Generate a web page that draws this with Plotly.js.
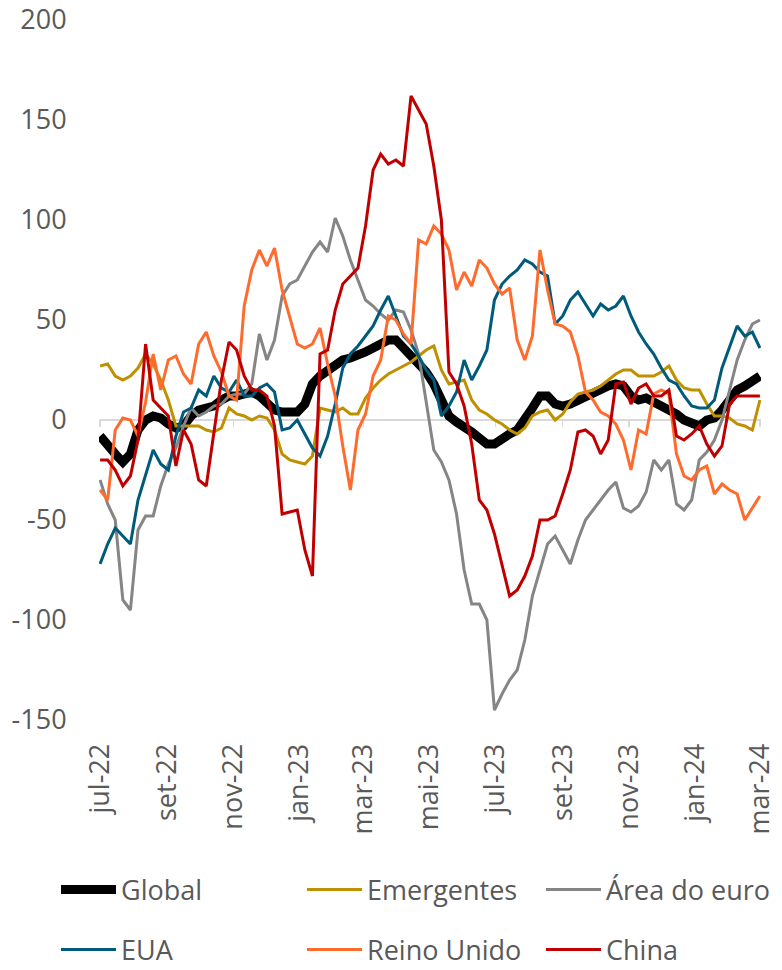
<!DOCTYPE html>
<html>
<head>
<meta charset="utf-8">
<script src="https://cdn.plot.ly/plotly-3.0.1.min.js"></script>
<style>
html,body{margin:0;padding:0;background:#ffffff;}
#chart{width:782px;height:970px;}
</style>
</head>
<body>
<div id="chart"></div>
<script>
const dates = [
'2022-07-01','2022-07-08','2022-07-15','2022-07-22','2022-07-29','2022-08-05','2022-08-12','2022-08-19','2022-08-26','2022-09-02',
'2022-09-09','2022-09-16','2022-09-23','2022-09-30','2022-10-07','2022-10-14','2022-10-21','2022-10-28','2022-11-04','2022-11-11',
'2022-11-18','2022-11-25','2022-12-02','2022-12-09','2022-12-16','2022-12-23','2022-12-30','2023-01-06','2023-01-13','2023-01-20',
'2023-01-27','2023-02-03','2023-02-10','2023-02-17','2023-02-24','2023-03-03','2023-03-10','2023-03-17','2023-03-24','2023-03-31',
'2023-04-07','2023-04-14','2023-04-21','2023-04-28','2023-05-05','2023-05-12','2023-05-19','2023-05-26','2023-06-02','2023-06-09',
'2023-06-16','2023-06-23','2023-06-30','2023-07-07','2023-07-14','2023-07-21','2023-07-28','2023-08-04','2023-08-11','2023-08-18',
'2023-08-25','2023-09-01','2023-09-08','2023-09-15','2023-09-22','2023-09-29','2023-10-06','2023-10-13','2023-10-20','2023-10-27',
'2023-11-03','2023-11-10','2023-11-17','2023-11-24','2023-12-01','2023-12-08','2023-12-15','2023-12-22','2023-12-29','2024-01-05',
'2024-01-12','2024-01-19','2024-01-26','2024-02-02','2024-02-09','2024-02-16','2024-02-23','2024-03-01'
];

const global = [
-8,-13,-17,-21,-17,-5,0,2,1,-2,
-4,-3,2,5,6,7,10,12,12,13,
14,12,8,5,4,4,4,8,18,22,
25,28,30,31,32,34,36,38,40,40,
36,33,28,24,18,10,2,-1,-3,-6,
-9,-12,-12,-9,-7,-5,0,6,12,12,
8,7,8,10,11,13,15,17,18,17,
12,10,11,9,8,6,3,0,-2,-3,
0,1,5,10,15,17,19,22
];

const emergentes = [
27,28,22,20,22,26,33,28,20,10,
-3,-3,-3,-3,-5,-6,-4,6,3,2,
0,2,1,-5,-17,-20,-21,-22,-18,6,
5,4,6,3,3,11,16,20,23,25,
27,29,32,35,37,25,18,19,20,10,
5,3,0,-2,-5,-7,-4,2,4,5,
0,3,9,13,14,15,17,20,23,25,
25,22,22,22,24,27,20,16,15,15,
8,2,2,1,-2,-3,-5,10
];

const areaEuro = [
-30,-42,-50,-90,-95,-55,-48,-48,-33,-22,
-14,-3,6,2,4,7,8,12,13,13,
18,43,30,40,62,68,70,77,84,89,
84,101,92,80,70,60,57,53,50,55,
54,45,33,10,-15,-21,-30,-47,-75,-92,
-92,-100,-145,-137,-130,-125,-110,-88,-75,-62,
-58,-65,-72,-60,-50,-45,-40,-35,-31,-44,
-46,-43,-36,-20,-25,-20,-42,-45,-40,-20,
-16,-10,0,15,30,40,48,50
];

const eua = [
-72,-62,-54,-58,-62,-40,-28,-15,-22,-25,
-8,4,6,15,12,22,16,14,20,12,
12,16,18,14,-5,-4,0,-7,-14,-18,
-8,8,26,33,37,42,47,55,62,52,
42,38,32,25,20,2,7,14,30,20,
27,35,60,68,72,75,80,78,74,72,
48,52,60,64,58,52,58,55,57,62,
52,44,38,33,26,20,18,12,7,6,
6,10,26,37,47,42,44,36
];

const reinoUnido = [
-35,-40,-5,1,0,-8,9,33,15,30,
32,23,18,38,44,32,24,12,10,57,
75,85,77,86,65,52,38,36,38,46,
28,12,-13,-35,-5,3,22,30,52,50,
43,38,90,88,97,93,85,65,74,67,
80,76,68,63,66,40,30,42,85,65,
48,47,44,32,14,10,4,2,-2,-10,
-25,-5,-7,13,15,13,-17,-28,-30,-25,
-23,-37,-32,-35,-37,-50,-44,-38
];

const china = [
-20,-20,-25,-33,-28,-10,38,10,6,2,
-23,-5,-12,-30,-33,-7,20,39,35,22,
15,15,12,-3,-47,-46,-45,-65,-78,33,
35,55,68,72,76,97,125,133,128,130,
127,162,155,148,127,100,24,18,7,-12,
-40,-45,-57,-72,-88,-85,-78,-68,-50,-50,
-48,-37,-25,-6,-5,-8,-17,-10,18,19,
8,16,18,12,12,15,-8,-10,-7,-3,
-12,-18,-13,8,12,12,12,12
];

const xTickVals = ['2022-07-01','2022-09-01','2022-11-01','2023-01-01','2023-03-01','2023-05-01','2023-07-01','2023-09-01','2023-11-01','2024-01-01','2024-03-01'];
const xTickText = ['jul-22','set-22','nov-22','jan-23','mar-23','mai-23','jul-23','set-23','nov-23','jan-24','mar-24'];
const yTickVals = [-150,-100,-50,0,50,100,150,200];
const yTickText = ['-150','-100','-50','0','50','100','150','200'];

const seriesNames = ['Global','Emergentes','Área do euro','EUA','Reino Unido','China'];
const seriesValues = [global, emergentes, areaEuro, eua, reinoUnido, china];
const seriesColors = ['#000000','#BF9000','#858585','#005B7B','#FF6B2D','#C00000'];
const seriesWidths = [9,3,3,3,3,3];
const legendIds = ['legend','legend2','legend3','legend4','legend5','legend6'];

const traces = seriesNames.map((n,i)=>({
  type:'scatter', mode:'lines', name:n, x:dates, y:seriesValues[i],
  line:{color:seriesColors[i], width:seriesWidths[i]},
  legend:legendIds[i]
}));
// empty helper trace so the category axis drawn across y = 0 exists
traces.unshift({type:'scatter', mode:'lines', x:[], y:[], xaxis:'x2', yaxis:'y', showlegend:false, hoverinfo:'skip'});

const FONT = "'Open Sans', 'Liberation Sans', sans-serif";
const W = 782, H = 970;
const Y_MIN = -150, Y_MAX = 200;
const X_RANGE = ['2022-06-30','2024-03-02'];
// legend placement (pixels in the 782x970 page)
const legendLeft = [56, 302, 541, 56, 302, 541];
const legendMid  = [890, 890, 890, 950, 950, 950];

const layout = {
  width:W, height:H,
  margin:{l:99, r:21, t:20, b:250},
  paper_bgcolor:'#ffffff', plot_bgcolor:'#ffffff',
  font:{family:FONT, size:27, color:'#595959'},
  showlegend:true,
  xaxis:{
    type:'date', range:X_RANGE,
    tickmode:'array', tickvals:xTickVals, ticktext:xTickText, tickangle:-90,
    showgrid:false, zeroline:false, showline:false, automargin:false,
    ticks:'outside', ticklen:12, tickcolor:'rgba(0,0,0,0)',
    tickfont:{family:FONT, size:27, color:'#595959'}
  },
  xaxis2:{
    type:'date', range:X_RANGE, overlaying:'x', anchor:'free',
    position:(0 - Y_MIN)/(Y_MAX - Y_MIN), side:'bottom',
    tickmode:'array', tickvals:xTickVals, showticklabels:false,
    showgrid:false, zeroline:false, showline:true, linecolor:'#D9D9D9', linewidth:2,
    ticks:'outside', ticklen:6, tickwidth:1.5, tickcolor:'#D9D9D9',
    layer:'below traces', automargin:false
  },
  yaxis:{
    range:[Y_MIN,Y_MAX], tickmode:'array', tickvals:yTickVals, ticktext:yTickText,
    showgrid:false, zeroline:false,
    showline:false, automargin:false, ticks:'outside', ticklen:26, tickcolor:'rgba(0,0,0,0)',
    tickfont:{family:FONT, size:27, color:'#595959'}
  }
};
legendIds.forEach((id,i)=>{
  layout[id] = {
    orientation:'h', xref:'container', yref:'container',
    x:legendLeft[i]/W, xanchor:'left', y:(H-legendMid[i])/H, yanchor:'middle',
    itemwidth:55,
    font:{family:FONT, size:27, color:'#595959'},
    bgcolor:'rgba(0,0,0,0)', borderwidth:0
  };
});

Plotly.newPlot('chart', traces, layout, {staticPlot:true, displayModeBar:false});
</script>
</body>
</html>
